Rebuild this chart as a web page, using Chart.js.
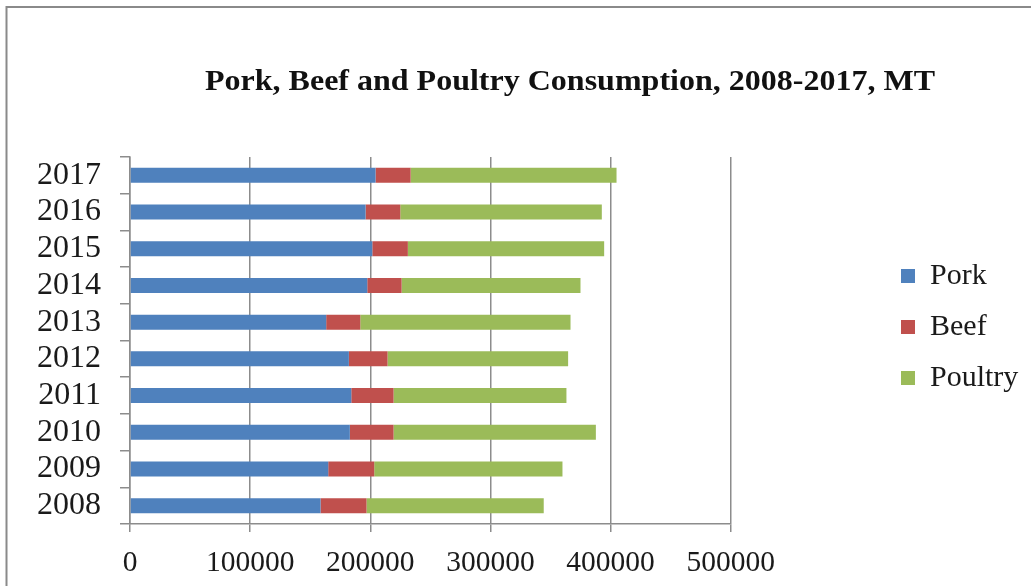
<!DOCTYPE html>
<html>
<head>
<meta charset="utf-8">
<title>Pork, Beef and Poultry Consumption</title>
<script src="https://cdn.jsdelivr.net/npm/chart.js@4.4.0/dist/chart.umd.min.js"></script>
<style>
  html, body { margin: 0; padding: 0; background: #fff; }
  #chart1 { display: block; }
</style>
</head>
<body>
<canvas id="chart1" width="1031" height="586"></canvas>
<script>
var years = ['2008','2009','2010','2011','2012','2013','2014','2015','2016','2017'];
var pork = [158600, 165000, 183000, 184200, 182200, 163300, 197500, 201700, 196100, 204400];
var beef = [38300, 38300, 36400, 35200, 32200, 28400, 28600, 29600, 28900, 29200];
var poultry = [147500, 156700, 168400, 143900, 150300, 175000, 148900, 163400, 167750, 171400];
var xTicks = [0, 100000, 200000, 300000, 400000, 500000];

var serif = "Liberation Serif, Times New Roman, serif";
var axisGrey = '#8c8c8c';

// white page with the grey frame line along the top and left
var framePlugin = {
    id: 'frame',
    beforeDraw: function(chart) {
        var c = chart.ctx;
        c.save();
        c.fillStyle = '#fff';
        c.fillRect(0, 0, chart.width, chart.height);
        c.strokeStyle = '#8a8a8a';
        c.lineWidth = 2;
        c.strokeRect(6.5, 7, chart.width + 20, chart.height + 20);
        c.restore();
    }
};

// heading, stretched a little to the width of the original
var headingPlugin = {
    id: 'heading',
    afterDraw: function(chart) {
        var c = chart.ctx;
        var text = 'Pork, Beef and Poultry Consumption, 2008-2017, MT';
        c.save();
        c.font = 'bold 29px ' + serif;
        c.fillStyle = '#111';
        c.textAlign = 'center';
        c.textBaseline = 'alphabetic';
        var w = c.measureText(text).width;
        c.translate(570, 90);
        c.scale(730 / w, 1);
        c.fillText(text, 0, 0);
        c.restore();
    }
};

// move the legend column out to the right side
var legendSpot = {
    id: 'legendSpot',
    afterLayout: function(chart) {
        var lg = chart.legend;
        var w = lg.width, h = lg.height;
        lg.left = 880; lg.right = 880 + w;
        lg.top = 240; lg.bottom = 240 + h;
    }
};

var ctx = document.getElementById('chart1').getContext('2d');
var chartBar = new Chart(ctx, {
    type: 'bar',
    data: {
        labels: years,
        datasets: [
            { label: 'Pork', data: pork, backgroundColor: '#4f81bd' },
            { label: 'Beef', data: beef, backgroundColor: '#c0504d' },
            { label: 'Poultry', data: poultry, backgroundColor: '#9bbb59' }
        ]
    },
    options: {
        indexAxis: 'y',
        responsive: false,
        animation: false,
        devicePixelRatio: 1,
        barPercentage: 0.51,
        categoryPercentage: 0.8,
        layout: { padding: { top: 157, right: 152, bottom: 0, left: 0 } },
        scales: {
            x: {
                stacked: true,
                min: 0,
                max: 500000,
                afterBuildTicks: function(scale) {
                    scale.ticks = xTicks.map(function(v) { return { value: v }; });
                },
                afterFit: function(scale) { scale.height = 62; },
                grid: { color: axisGrey, lineWidth: 1.5, tickLength: 8 },
                border: { color: axisGrey, width: 1.5 },
                ticks: {
                    font: { family: serif, size: 29.5 },
                    color: '#1a1a1a',
                    padding: 14,
                    maxRotation: 0,
                    callback: function(v) { return String(v); }
                }
            },
            y: {
                stacked: true,
                reverse: true,
                afterFit: function(scale) { scale.width = 130; },
                grid: { drawOnChartArea: false, color: axisGrey, lineWidth: 1.5, tickLength: 10, offset: true },
                border: { color: axisGrey, width: 1.5 },
                ticks: {
                    font: { family: serif, size: 32 },
                    color: '#1a1a1a',
                    padding: 19,
                    autoSkip: false
                }
            }
        },
        plugins: {
            title: { display: false },
            tooltip: { enabled: false },
            legend: {
                position: 'right',
                align: 'start',
                labels: {
                    font: { family: serif, size: 30 },
                    color: '#1a1a1a',
                    boxWidth: 14,
                    boxHeight: 14,
                    padding: 21
                }
            }
        }
    },
    plugins: [framePlugin, headingPlugin, legendSpot]
});
</script>
</body>
</html>
